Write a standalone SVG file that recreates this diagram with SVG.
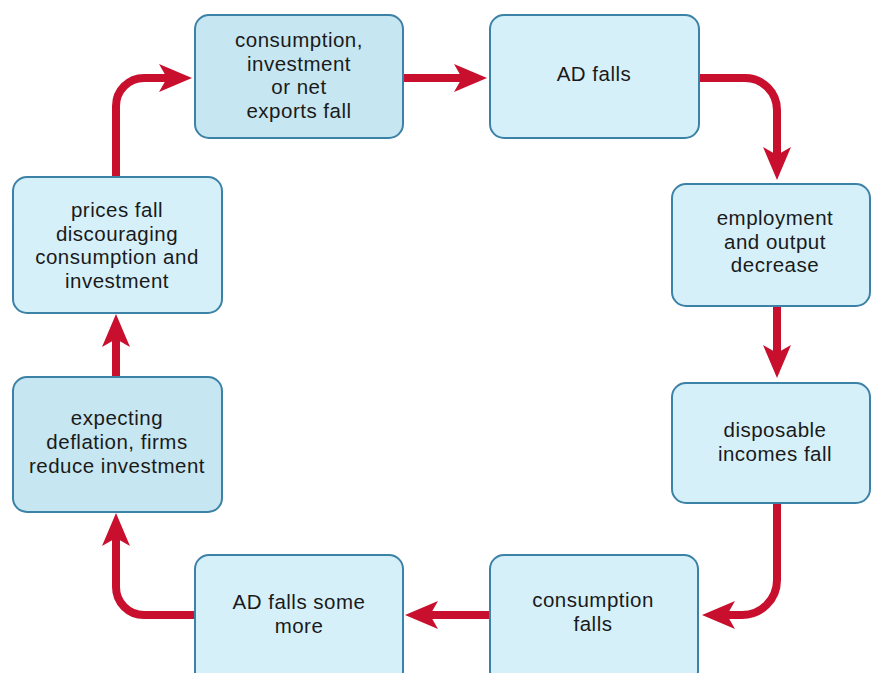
<svg xmlns="http://www.w3.org/2000/svg" width="871" height="673" viewBox="0 0 871 673">
<style>
.box{fill:#d6f0fa;stroke:#3c82a6;stroke-width:2}
.dark{fill:#c6e6f1}
.lbl{font-family:"Liberation Sans",Arial,sans-serif;font-size:20.5px;letter-spacing:0.5px;fill:#1a1a1a;text-anchor:middle}
.arr{fill:none;stroke:#c8102e;stroke-width:8;marker-end:url(#ah)}
</style>
<defs>
<marker id="ah" markerUnits="userSpaceOnUse" markerWidth="40" markerHeight="32" viewBox="0 -16 40 32" refX="10" refY="0" orient="auto">
<path d="M0,-14 L33,0 L0,14 L8,0 Z" fill="#c8102e"/>
</marker>
</defs>
<rect width="871" height="673" fill="#ffffff"/>
<g id="connectors">
<path class="arr" d="M116,177 V106 A28,28 0 0 1 144,78 H169"/>
<path class="arr" d="M403,78 H464"/>
<path class="arr" d="M699,78 H745 A32,32 0 0 1 777,110 V157"/>
<path class="arr" d="M777,306 V355"/>
<path class="arr" d="M777,503 V580 A35,35 0 0 1 742,615 H725"/>
<path class="arr" d="M490,615 H428"/>
<path class="arr" d="M195,615 H144 A28,28 0 0 1 116,587 V536"/>
<path class="arr" d="M116,377 V337"/>
</g>
<g id="n1">
<rect class="box dark" x="195" y="15" width="208" height="123" rx="14"/>
<text class="lbl" x="299" y="47">consumption,</text>
<text class="lbl" x="299" y="70.5">investment</text>
<text class="lbl" x="299" y="94">or net</text>
<text class="lbl" x="299" y="117.5">exports fall</text>
</g>
<g id="n2">
<rect class="box" x="490" y="15" width="209" height="123" rx="14"/>
<text class="lbl" x="594" y="81">AD falls</text>
</g>
<g id="n3">
<rect class="box" x="672" y="184" width="198" height="122" rx="14"/>
<text class="lbl" x="775" y="225">employment</text>
<text class="lbl" x="775" y="248.5">and output</text>
<text class="lbl" x="775" y="272">decrease</text>
</g>
<g id="n4">
<rect class="box" x="672" y="383" width="198" height="120" rx="14"/>
<text class="lbl" x="775" y="437">disposable</text>
<text class="lbl" x="775" y="461">incomes fall</text>
</g>
<g id="n5">
<rect class="box" x="490" y="555" width="208" height="130" rx="14"/>
<text class="lbl" x="593" y="607">consumption</text>
<text class="lbl" x="593" y="631">falls</text>
</g>
<g id="n6">
<rect class="box" x="195" y="555" width="208" height="130" rx="14"/>
<text class="lbl" x="299" y="609">AD falls some</text>
<text class="lbl" x="299" y="633">more</text>
</g>
<g id="n7">
<rect class="box dark" x="13" y="377" width="209" height="135" rx="14"/>
<text class="lbl" x="117" y="425">expecting</text>
<text class="lbl" x="117" y="449">deflation, firms</text>
<text class="lbl" x="117" y="473">reduce investment</text>
</g>
<g id="n8">
<rect class="box" x="13" y="177" width="209" height="136" rx="14"/>
<text class="lbl" x="117" y="217">prices fall</text>
<text class="lbl" x="117" y="240.5">discouraging</text>
<text class="lbl" x="117" y="264">consumption and</text>
<text class="lbl" x="117" y="287.5">investment</text>
</g>
</svg>
